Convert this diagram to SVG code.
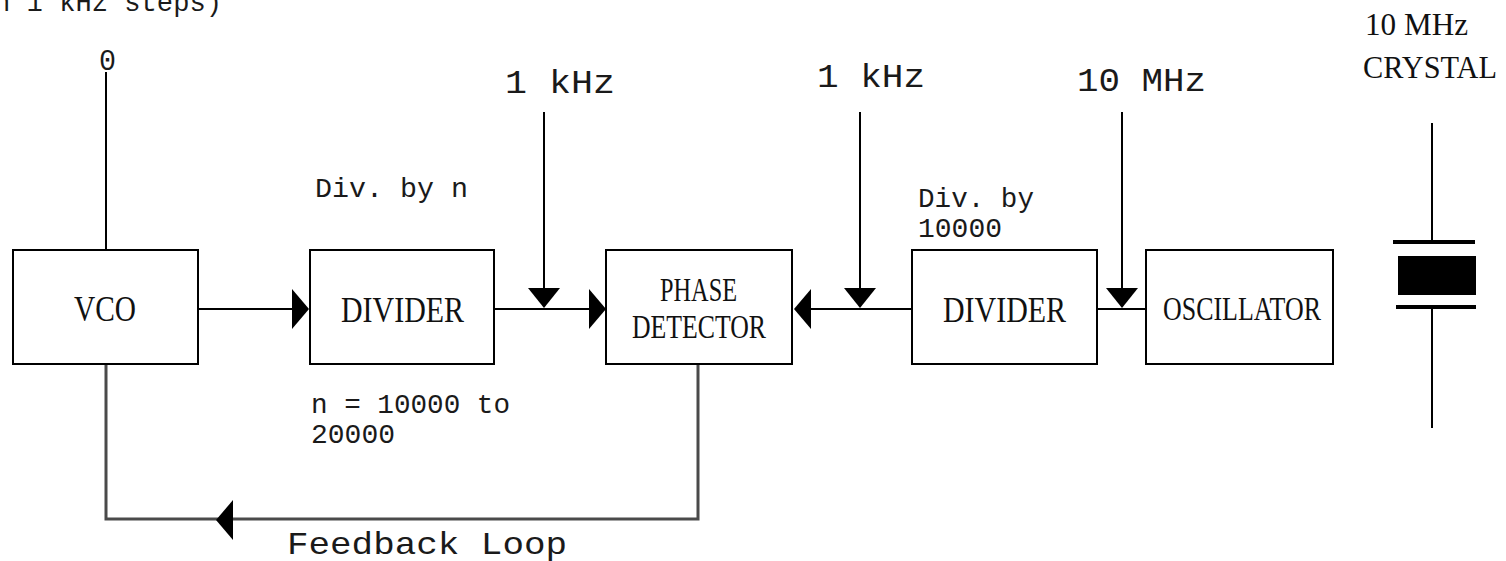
<svg xmlns="http://www.w3.org/2000/svg" xmlns:xlink="http://www.w3.org/1999/xlink" width="1506" height="561" viewBox="0 0 1506 561">
<style>
.box{fill:#fff;stroke:#000;stroke-width:2}
.wire{fill:none;stroke:#000;stroke-width:2}
.fb{fill:none;stroke:#4a4a4a;stroke-width:3}
.head{fill:#000}
.mono{font-family:"Courier New","Liberation Mono",monospace;fill:#1a1a1a}
.serif{font-family:"Liberation Serif","Times New Roman",serif;fill:#111}
.plate{stroke:#000;stroke-width:4}
</style>
<defs>
<path id="arR" d="M0,0 L-17,-20 L-17,20 Z"/>
<path id="arL" d="M0,0 L17,-20 L17,20 Z"/>
<path id="arD" d="M0,0 L-16,-20 L16,-20 Z"/>
</defs>
<rect width="1506" height="561" fill="#fff"/>

<g id="labels">
<text class="mono" x="-6" y="11" font-size="27" textLength="228" lengthAdjust="spacingAndGlyphs">n 1 kHz steps)</text>
<text class="mono" x="99" y="70" font-size="30" textLength="17" lengthAdjust="spacingAndGlyphs">0</text>
<text class="mono" x="505" y="93" font-size="34" textLength="110" lengthAdjust="spacingAndGlyphs">1 kHz</text>
<text class="mono" x="817" y="87" font-size="34" textLength="108" lengthAdjust="spacingAndGlyphs">1 kHz</text>
<text class="mono" x="1077" y="91" font-size="34" textLength="129" lengthAdjust="spacingAndGlyphs">10 MHz</text>
<text class="mono" x="315" y="197" font-size="28" textLength="153" lengthAdjust="spacingAndGlyphs">Div. by n</text>
<text class="mono" x="918" y="207" font-size="28" textLength="116" lengthAdjust="spacingAndGlyphs">Div. by</text>
<text class="mono" x="918" y="237" font-size="28" textLength="84" lengthAdjust="spacingAndGlyphs">10000</text>
<text class="mono" x="311" y="413" font-size="28" textLength="199" lengthAdjust="spacingAndGlyphs">n = 10000 to</text>
<text class="mono" x="311" y="443" font-size="28" textLength="84" lengthAdjust="spacingAndGlyphs">20000</text>
<text class="mono" x="287" y="554" font-size="32" textLength="280" lengthAdjust="spacingAndGlyphs">Feedback Loop</text>
<text class="serif" x="1365" y="35" font-size="31" textLength="103" lengthAdjust="spacingAndGlyphs">10 MHz</text>
<text class="serif" x="1363" y="78" font-size="31" textLength="134" lengthAdjust="spacingAndGlyphs">CRYSTAL</text>
</g>

<g id="connectors">
<line class="wire" x1="106" y1="72" x2="106" y2="250"/>
<line class="wire" x1="198" y1="309" x2="293" y2="309"/>
<use href="#arR" xlink:href="#arR" class="head" x="309" y="309"/>
<line class="wire" x1="494" y1="309" x2="590" y2="309"/>
<use href="#arR" xlink:href="#arR" class="head" x="606" y="309"/>
<line class="wire" x1="544" y1="112" x2="544" y2="290"/>
<use href="#arD" xlink:href="#arD" class="head" x="544" y="308"/>
<line class="wire" x1="912" y1="309" x2="810" y2="309"/>
<use href="#arL" xlink:href="#arL" class="head" x="794" y="309"/>
<line class="wire" x1="860" y1="112" x2="860" y2="290"/>
<use href="#arD" xlink:href="#arD" class="head" x="860" y="308"/>
<line class="wire" x1="1097" y1="309" x2="1146" y2="309"/>
<line class="wire" x1="1122" y1="112" x2="1122" y2="290"/>
<use href="#arD" xlink:href="#arD" class="head" x="1122" y="308"/>
<polyline class="fb" points="106,364 106,519 698,519 698,364"/>
<use href="#arL" xlink:href="#arL" class="head" x="216" y="520"/>
</g>

<g id="vco">
<rect class="box" x="13" y="250" width="185" height="114"/>
<text class="serif" x="74" y="321" font-size="36" textLength="62" lengthAdjust="spacingAndGlyphs">VCO</text>
</g>
<g id="divider-n">
<rect class="box" x="310" y="250" width="184" height="114"/>
<text class="serif" x="341" y="322" font-size="36" textLength="123" lengthAdjust="spacingAndGlyphs">DIVIDER</text>
</g>
<g id="phase-detector">
<rect class="box" x="606" y="250" width="186" height="114"/>
<text class="serif" x="660" y="301" font-size="34" textLength="77" lengthAdjust="spacingAndGlyphs">PHASE</text>
<text class="serif" x="632" y="338" font-size="34" textLength="134" lengthAdjust="spacingAndGlyphs">DETECTOR</text>
</g>
<g id="divider-10000">
<rect class="box" x="912" y="250" width="185" height="114"/>
<text class="serif" x="943" y="322" font-size="36" textLength="123" lengthAdjust="spacingAndGlyphs">DIVIDER</text>
</g>
<g id="oscillator">
<rect class="box" x="1146" y="250" width="187" height="114"/>
<text class="serif" x="1163" y="320" font-size="34" textLength="158" lengthAdjust="spacingAndGlyphs">OSCILLATOR</text>
</g>
<g id="crystal">
<line class="wire" x1="1432" y1="123" x2="1432" y2="242"/>
<line class="plate" x1="1393" y1="242" x2="1475" y2="242"/>
<rect x="1398" y="256" width="78" height="39" fill="#000"/>
<line class="plate" x1="1396" y1="307" x2="1476" y2="307"/>
<line class="wire" x1="1432" y1="307" x2="1432" y2="428"/>
</g>
</svg>
